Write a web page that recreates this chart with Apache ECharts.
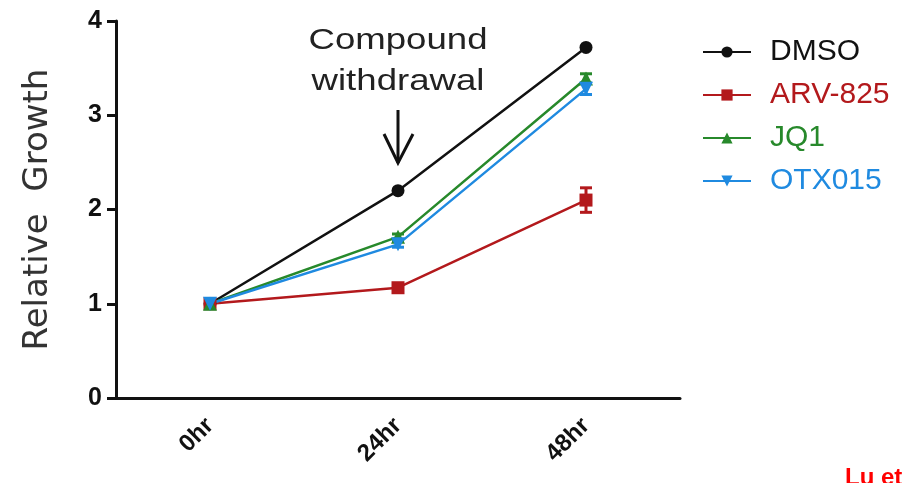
<!DOCTYPE html>
<html>
<head>
<meta charset="utf-8">
<script src="https://cdn.jsdelivr.net/npm/echarts@6/dist/echarts.min.js"></script>
<style>
  html, body { margin: 0; padding: 0; background: #fff; }
  #chart { width: 905px; height: 483px; }
</style>
</head>
<body>
<div id="chart"></div>
<script>
// time points
var categories = ["0hr", "24hr", "48hr"];

// mean relative growth
var dmso = [1, 2.2, 3.72];
var arv825 = [1, 1.17, 2.1];
var jq1 = [1, 1.71, 3.39];
var otx015 = [1, 1.63, 3.28];

// error (± SEM)
var arv825Err = [0.02, 0.03, 0.13];
var jq1Err = [0.02, 0.03, 0.05];
var otx015Err = [0.02, 0.03, 0.06];

var yTicks = [0, 1, 2, 3, 4];

var colors = {
  DMSO: "#111111",
  "ARV-825": "#b3191c",
  JQ1: "#27892b",
  OTX015: "#1f8ae0"
};

function errData(mean, err) {
  return mean.map(function (m, i) { return [i, m - err[i], m + err[i]]; });
}

function errSeries(name, mean, err) {
  return {
    type: "custom",
    name: name + "_err",
    z: 3,
    silent: true,
    data: errData(mean, err),
    renderItem: function (params, api) {
      var x = api.value(0);
      var lo = api.coord([x, api.value(1)]);
      var hi = api.coord([x, api.value(2)]);
      var w = 6;
      var style = { stroke: colors[name], lineWidth: 3 };
      return {
        type: "group",
        children: [
          { type: "line", shape: { x1: lo[0], y1: lo[1], x2: hi[0], y2: hi[1] }, style: style },
          { type: "line", shape: { x1: lo[0] - w, y1: lo[1], x2: lo[0] + w, y2: lo[1] }, style: style },
          { type: "line", shape: { x1: hi[0] - w, y1: hi[1], x2: hi[0] + w, y2: hi[1] }, style: style }
        ]
      };
    }
  };
}

function lineSeries(name, data, symbol, rotate) {
  return {
    name: name,
    type: "line",
    data: data,
    symbol: symbol,
    symbolSize: symbol === "triangle" ? 14 : 13,
    symbolRotate: rotate || 0,
    z: 4,
    itemStyle: { color: colors[name] },
    lineStyle: { color: colors[name], width: 2.5 }
  };
}

var chart = echarts.init(document.getElementById("chart"));

chart.setOption({
  animation: false,
  backgroundColor: "#fff",
  textStyle: { fontFamily: "Liberation Sans, Arial, sans-serif" },
  grid: { left: 116, right: 225, top: 21, bottom: 85, containLabel: false },
  legend: {
    orient: "vertical",
    left: 697,
    top: 32,
    itemWidth: 48,
    itemHeight: 14,
    itemGap: 13,
    textStyle: { fontSize: 30, padding: [0, 0, 0, 14], lineHeight: 30 },
    data: [
      { name: "DMSO", textStyle: { color: colors.DMSO } },
      { name: "ARV-825", textStyle: { color: colors["ARV-825"] } },
      { name: "JQ1", textStyle: { color: colors.JQ1 } },
      { name: "OTX015", textStyle: { color: colors.OTX015 } }
    ]
  },
  xAxis: {
    type: "category",
    data: categories,
    boundaryGap: true,
    axisLine: { lineStyle: { color: "#111", width: 3 } },
    axisTick: { alignWithLabel: true, length: 9, lineStyle: { color: "#111", width: 3 } },
    axisLabel: {
      color: "#111",
      fontSize: 24,
      fontWeight: "bold",
      rotate: 45,
      margin: 24
    }
  },
  yAxis: {
    type: "value",
    min: 0,
    max: 4,
    interval: 1,
    name: "Relative  Growth",
    nameLocation: "middle",
    nameGap: 61,
    nameTextStyle: { fontSize: 34, color: "#333", fontFamily: "DejaVu Sans" },
    splitLine: { show: false },
    axisLine: { show: true, lineStyle: { color: "#111", width: 3 } },
    axisTick: { show: true, length: 9, lineStyle: { color: "#111", width: 3 } },
    axisLabel: {
      color: "#111",
      fontSize: 25,
      fontWeight: "bold",
      margin: 14,
      formatter: function (v) { return yTicks.indexOf(v) >= 0 ? String(v) : ""; }
    }
  },
  graphic: [
    {
      type: "text",
      x: 398,
      y: 20,
      scaleX: 1.22,
      style: {
        text: "Compound\nwithdrawal",
        font: "30px Liberation Sans, Arial, sans-serif",
        fill: "#222",
        align: "center",
        verticalAlign: "top",
        lineHeight: 41
      }
    },
    {
      type: "group",
      children: [
        { type: "line", shape: { x1: 398, y1: 110, x2: 398, y2: 163 }, style: { stroke: "#111", lineWidth: 3 } },
        { type: "polyline", shape: { points: [[384, 134], [398, 163], [413, 134]] }, style: { stroke: "#111", lineWidth: 3, fill: null } }
      ]
    },
    {
      type: "text",
      x: 845,
      y: 466,
      style: { text: "Lu et al", font: "bold 24px Liberation Sans Narrow, Arial, sans-serif", fill: "#ff0000" }
    }
  ],
  series: [
    lineSeries("DMSO", dmso, "circle"),
    lineSeries("ARV-825", arv825, "rect"),
    lineSeries("JQ1", jq1, "triangle"),
    lineSeries("OTX015", otx015, "triangle", 180),
    errSeries("ARV-825", arv825, arv825Err),
    errSeries("JQ1", jq1, jq1Err),
    errSeries("OTX015", otx015, otx015Err)
  ]
});
</script>
</body>
</html>
